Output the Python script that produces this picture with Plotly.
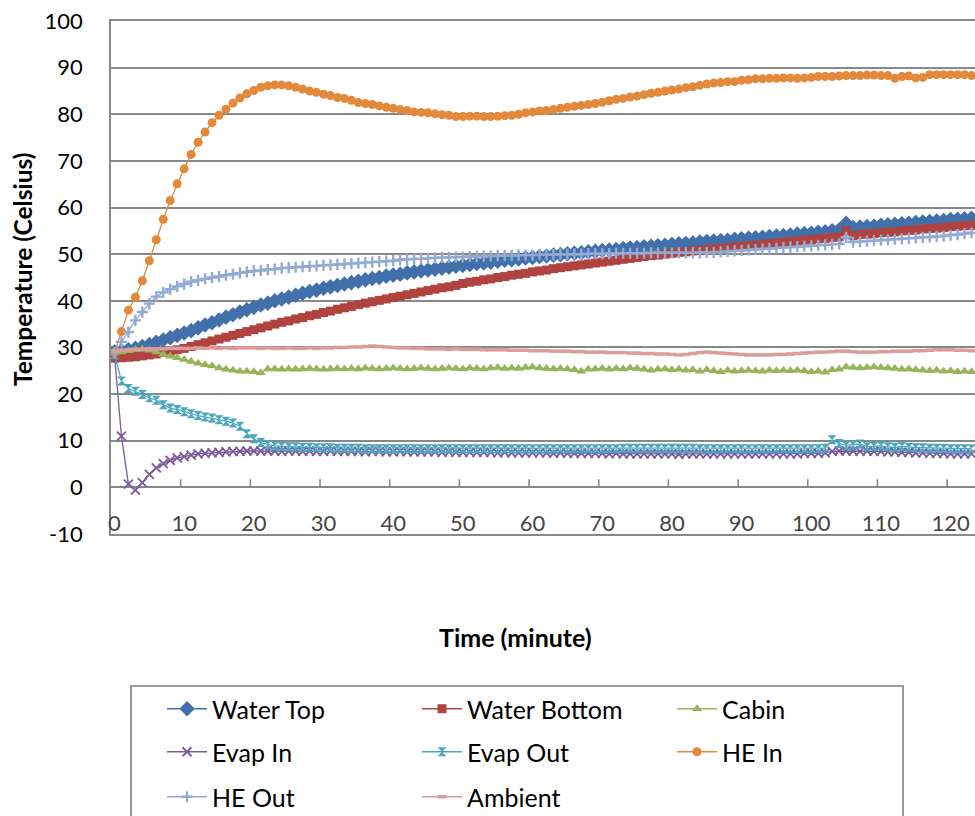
import plotly.graph_objects as go

# ---------------- data ----------------
minutes = list(range(0, 124))

water_top = [
    29.0, 29.2, 29.5, 29.8, 30.2, 30.6, 31.1, 31.6, 32.1, 32.6,
    33.1, 33.6, 34.2, 34.8, 35.3, 35.9, 36.5, 37.0, 37.6, 38.1,
    38.6, 39.1, 39.5, 40.0, 40.4, 40.8, 41.2, 41.6, 42.0, 42.3,
    42.7, 43.0, 43.3, 43.6, 43.9, 44.2, 44.5, 44.8, 45.0, 45.3,
    45.5, 45.7, 46.0, 46.2, 46.4, 46.6, 46.8, 47.0, 47.2, 47.4,
    47.6, 47.8, 48.0, 48.1, 48.3, 48.5, 48.7, 48.8, 49.0, 49.2,
    49.3, 49.5, 49.6, 49.8, 49.9, 50.1, 50.2, 50.3, 50.5, 50.6,
    50.8, 50.9, 51.0, 51.2, 51.3, 51.4, 51.6, 51.7, 51.8, 51.9,
    52.1, 52.2, 52.3, 52.4, 52.6, 52.7, 52.8, 52.9, 53.0, 53.2,
    53.3, 53.4, 53.5, 53.6, 53.8, 53.9, 54.0, 54.1, 54.3, 54.4,
    54.5, 54.7, 54.8, 55.0, 55.2, 56.6, 55.7, 55.8, 55.9, 56.0,
    56.2, 56.3, 56.4, 56.5, 56.6, 56.8, 56.9, 57.0, 57.1, 57.2,
    57.4, 57.5, 57.6, 57.7,
]

water_bottom = [
    27.7, 27.8, 27.9, 28.0, 28.2, 28.4, 28.6, 28.9, 29.2, 29.5,
    29.8, 30.2, 30.6, 31.0, 31.4, 31.8, 32.2, 32.6, 33.0, 33.4,
    33.8, 34.2, 34.6, 35.0, 35.4, 35.7, 36.1, 36.4, 36.8, 37.1,
    37.5, 37.8, 38.2, 38.5, 38.8, 39.2, 39.5, 39.8, 40.1, 40.4,
    40.7, 41.0, 41.3, 41.6, 41.9, 42.2, 42.5, 42.8, 43.0, 43.3,
    43.7, 44.0, 44.2, 44.5, 44.7, 45.0, 45.2, 45.5, 45.7, 45.9,
    46.2, 46.4, 46.6, 46.9, 47.1, 47.3, 47.5, 47.7, 47.9, 48.1,
    48.3, 48.5, 48.7, 48.9, 49.1, 49.3, 49.5, 49.7, 49.8, 50.0,
    50.2, 50.4, 50.5, 50.7, 50.8, 51.0, 51.1, 51.3, 51.4, 51.6,
    51.7, 51.8, 51.9, 52.1, 52.2, 52.4, 52.5, 52.7, 52.8, 53.0,
    53.1, 53.3, 53.4, 53.6, 53.7, 55.0, 54.0, 54.2, 54.3, 54.4,
    54.6, 54.7, 54.8, 55.0, 55.1, 55.2, 55.4, 55.5, 55.6, 55.7,
    55.9, 56.0, 56.1, 56.2,
]

cabin = [
    28.8, 29.0, 29.3, 29.5, 29.6, 29.4, 29.0, 28.5, 28.1, 27.8,
    27.4, 27.0, 26.6, 26.3, 26.0, 25.6, 25.3, 25.1, 24.9, 24.9,
    24.8, 24.6, 25.4, 25.4, 25.3, 25.4, 25.3, 25.4, 25.5, 25.4,
    25.3, 25.4, 25.5, 25.4, 25.5, 25.4, 25.6, 25.5, 25.4, 25.5,
    25.6, 25.5, 25.4, 25.5, 25.6, 25.5, 25.4, 25.5, 25.6, 25.5,
    25.4, 25.6, 25.5, 25.4, 25.6, 25.7, 25.5, 25.6, 25.5, 25.7,
    25.8, 25.6, 25.5, 25.4, 25.5, 25.4, 25.2, 24.9, 25.3, 25.4,
    25.5, 25.3, 25.5, 25.4, 25.6, 25.5, 25.3, 25.1, 25.3, 25.4,
    25.2, 25.3, 25.1, 25.2, 24.9, 25.2, 25.0, 24.8, 25.1, 24.9,
    25.0, 25.1, 25.0, 24.9, 25.1, 25.0, 25.1, 25.0, 25.1, 25.0,
    24.8, 24.9, 24.7, 25.2, 25.3, 25.8, 25.7, 25.6, 25.7, 25.8,
    25.7, 25.6, 25.5, 25.3, 25.4, 25.2, 25.1, 25.0, 25.1, 24.9,
    25.0, 24.8, 24.9, 24.8,
]

evap_in = [
    28.3, 11.0, 0.7, -0.6, 1.0, 2.8, 4.2, 5.1, 5.8, 6.3,
    6.6, 6.9, 7.2, 7.3, 7.4, 7.5, 7.6, 7.7, 7.7, 7.8,
    7.8, 7.8, 7.8, 7.8, 7.7, 7.8, 7.8, 7.7, 7.8, 7.7,
    7.7, 7.8, 7.7, 7.7, 7.7, 7.7, 7.6, 7.7, 7.7, 7.6,
    7.6, 7.7, 7.6, 7.6, 7.6, 7.6, 7.6, 7.5, 7.6, 7.5,
    7.5, 7.5, 7.5, 7.5, 7.5, 7.4, 7.5, 7.4, 7.4, 7.4,
    7.4, 7.4, 7.4, 7.3, 7.4, 7.3, 7.3, 7.3, 7.3, 7.3,
    7.3, 7.2, 7.3, 7.2, 7.2, 7.2, 7.2, 7.2, 7.2, 7.2,
    7.2, 7.1, 7.2, 7.2, 7.2, 7.2, 7.2, 7.2, 7.2, 7.2,
    7.2, 7.2, 7.2, 7.2, 7.2, 7.2, 7.2, 7.2, 7.2, 7.3,
    7.3, 7.3, 7.4, 7.7, 7.8, 7.8, 7.8, 7.7, 7.8, 7.7,
    7.7, 7.6, 7.6, 7.5, 7.5, 7.4, 7.4, 7.3, 7.3, 7.3,
    7.2, 7.2, 7.2, 7.2,
]

evap_out = [
    28.5, 22.8, 21.2, 20.6, 19.9, 19.2, 18.7, 17.7, 17.0, 16.7,
    16.2, 15.8, 15.4, 15.1, 14.9, 14.5, 14.2, 13.8, 13.1, 11.5,
    10.4, 9.6, 9.2, 8.9, 8.8, 8.7, 8.7, 8.6, 8.6, 8.5,
    8.5, 8.5, 8.4, 8.4, 8.4, 8.4, 8.3, 8.3, 8.3, 8.3,
    8.3, 8.3, 8.3, 8.3, 8.3, 8.3, 8.3, 8.3, 8.3, 8.3,
    8.3, 8.3, 8.3, 8.3, 8.3, 8.3, 8.3, 8.3, 8.3, 8.3,
    8.3, 8.3, 8.3, 8.3, 8.3, 8.3, 8.3, 8.3, 8.3, 8.3,
    8.3, 8.3, 8.3, 8.4, 8.4, 8.4, 8.4, 8.4, 8.4, 8.4,
    8.4, 8.4, 8.4, 8.4, 8.3, 8.3, 8.3, 8.3, 8.3, 8.3,
    8.3, 8.3, 8.3, 8.3, 8.3, 8.3, 8.3, 8.3, 8.3, 8.3,
    8.3, 8.3, 8.4, 10.2, 9.4, 9.0, 9.1, 9.3, 8.7, 8.8,
    8.9, 8.7, 8.6, 8.8, 8.6, 8.5, 8.5, 8.4, 8.4, 8.4,
    8.3, 8.3, 8.3, 8.3,
]

he_in = [
    28.9, 33.4, 38.0, 40.8, 44.3, 48.6, 53.1, 57.5, 61.5, 65.1,
    68.3, 71.4, 74.0, 76.2, 78.2, 79.8, 81.1, 82.4, 83.5, 84.4,
    85.1, 85.8, 86.1, 86.3, 86.3, 86.1, 85.8, 85.4, 85.0, 84.7,
    84.3, 84.0, 83.6, 83.4, 83.0, 82.5, 82.3, 82.1, 81.8, 81.5,
    81.3, 81.0, 80.8, 80.5, 80.4, 80.3, 80.1, 79.9, 79.8, 79.5,
    79.5, 79.6, 79.6, 79.5, 79.5, 79.6, 79.7, 79.8, 80.0, 80.3,
    80.5, 80.7, 80.8, 81.0, 81.3, 81.5, 81.7, 81.9, 82.1, 82.3,
    82.6, 82.9, 83.2, 83.4, 83.7, 83.9, 84.2, 84.5, 84.7, 85.0,
    85.2, 85.4, 85.7, 85.9, 86.2, 86.5, 86.7, 86.8, 87.0, 87.0,
    87.3, 87.4, 87.6, 87.6, 87.7, 87.7, 87.8, 87.8, 87.7, 87.8,
    87.9, 88.1, 88.1, 88.1, 88.2, 88.3, 88.3, 88.3, 88.4, 88.4,
    88.3, 88.3, 87.7, 88.1, 88.2, 87.8, 87.9, 88.5, 88.5, 88.5,
    88.5, 88.5, 88.5, 88.3,
]

he_out = [
    28.9, 31.2, 33.3, 35.8, 37.6, 39.4, 40.9, 41.8, 42.5, 43.1,
    43.6, 44.1, 44.4, 44.7, 45.0, 45.2, 45.5, 45.7, 46.0, 46.2,
    46.4, 46.5, 46.7, 46.8, 47.0, 47.1, 47.2, 47.3, 47.4, 47.5,
    47.6, 47.7, 47.8, 47.9, 48.0, 48.1, 48.2, 48.3, 48.4, 48.5,
    48.6, 48.8, 48.9, 49.0, 49.0, 49.1, 49.2, 49.3, 49.3, 49.4,
    49.4, 49.5, 49.5, 49.6, 49.6, 49.7, 49.7, 49.7, 49.8, 49.8,
    49.8, 49.9, 49.9, 49.9, 50.0, 50.0, 50.0, 50.0, 50.1, 50.1,
    50.1, 50.1, 50.2, 50.2, 50.2, 50.2, 50.2, 50.3, 50.3, 50.3,
    50.3, 50.3, 50.3, 50.3, 50.3, 50.4, 50.4, 50.5, 50.6, 50.7,
    50.8, 50.9, 51.0, 51.1, 51.2, 51.3, 51.4, 51.5, 51.6, 51.7,
    51.8, 51.9, 52.0, 52.1, 52.2, 53.6, 52.6, 52.7, 52.8, 52.9,
    53.0, 53.1, 53.2, 53.3, 53.4, 53.5, 53.6, 53.7, 53.8, 53.9,
    54.1, 54.2, 54.4, 54.6,
]

ambient = [
    29.2, 29.4, 29.5, 29.6, 29.6, 29.7, 29.7, 29.7, 29.8, 29.8,
    29.8, 29.8, 29.9, 29.8, 29.9, 29.8, 29.9, 29.8, 29.9, 29.9,
    29.9, 29.8, 29.9, 29.8, 29.8, 29.9, 29.8, 29.8, 29.9, 29.8,
    29.9, 29.9, 30.0, 30.0, 30.1, 30.1, 30.2, 30.3, 30.2, 30.1,
    30.0, 29.9, 29.9, 29.8, 29.8, 29.7, 29.7, 29.7, 29.6, 29.7,
    29.6, 29.6, 29.6, 29.5, 29.5, 29.5, 29.5, 29.4, 29.4, 29.4,
    29.3, 29.3, 29.3, 29.2, 29.2, 29.2, 29.1, 29.1, 29.0, 29.0,
    29.0, 28.9, 28.9, 28.9, 28.8, 28.8, 28.7, 28.7, 28.6, 28.6,
    28.5, 28.4, 28.5, 28.7, 28.9, 29.0, 28.9, 28.8, 28.7, 28.6,
    28.5, 28.4, 28.4, 28.4, 28.4, 28.5, 28.5, 28.6, 28.7, 28.8,
    28.9, 29.0, 29.0, 29.1, 29.2, 29.2, 29.1, 29.0, 29.0, 29.0,
    29.1, 29.1, 29.2, 29.2, 29.2, 29.3, 29.3, 29.4, 29.5, 29.5,
    29.5, 29.4, 29.4, 29.3,
]

x_tick_vals = [0, 10, 20, 30, 40, 50, 60, 70, 80, 90, 100, 110, 120]
x_tick_text = ["0", "10", "20", "30", "40", "50", "60", "70", "80", "90", "100", "110", "120"]
y_tick_vals = [-10, 0, 10, 20, 30, 40, 50, 60, 70, 80, 90, 100]
y_tick_text = ["-10", "0", "10", "20", "30", "40", "50", "60", "70", "80", "90", "100"]
# category boundaries where the small tick marks sit on the 0 line
x_minor_ticks = [9.5, 19.5, 29.5, 39.5, 49.5, 59.5, 69.5, 79.5, 89.5, 99.5, 109.5, 119.5]

FONT = "Lato"
GRID = "#888888"

series = [
    ("Water Top", water_top, "#4270AB", dict(symbol="diamond", size=12), "legend"),
    ("Water Bottom", water_bottom, "#B0433F", dict(symbol="square", size=9), "legend"),
    ("Cabin", cabin, "#96B55A", dict(symbol="triangle-up", size=9), "legend"),
    ("Evap In", evap_in, "#7A5C9C", dict(symbol="x-thin", size=9, line=dict(width=1.8, color="#7A5C9C")), "legend2"),
    ("Evap Out", evap_out, "#4BA6C0", dict(symbol="hourglass", size=9), "legend2"),
    ("HE In", he_in, "#E2893B", dict(symbol="circle", size=9), "legend2"),
    ("HE Out", he_out, "#93AAD2", dict(symbol="cross-thin", size=8, line=dict(width=2.4, color="#93AAD2")), "legend3"),
    ("Ambient", ambient, "#DC9C99", dict(symbol="line-ew", size=6, line=dict(width=3.5, color="#DC9C99")), "legend3"),
]

fig = go.Figure()
for name, vals, color, mk, lg in series:
    marker = dict(color=color)
    marker.update(mk)
    fig.add_trace(go.Scatter(
        x=minutes, y=vals, name=name, mode="lines+markers",
        line=dict(color=color, width=1.3),
        marker=marker, legend=lg,
    ))

# plot area in pixels: x 111..975, y 21..534
L, R, T, B = 111, 975, 21, 534
W, H = R - L, B - T


def px_x(p):
    return (p - L) / W


def px_y(p):
    return (B - p) / H


shapes = []
for t in x_minor_ticks:
    shapes.append(dict(type="line", xref="x", yref="y", x0=t, x1=t, y0=0, y1=1.75,
                       line=dict(color=GRID, width=1.6)))
# legend frame
shapes.append(dict(type="rect", xref="paper", yref="paper",
                   x0=px_x(131), x1=px_x(903), y0=px_y(686), y1=px_y(840),
                   line=dict(color="#7f7f7f", width=1.6), fillcolor="rgba(0,0,0,0)", layer="above"))

leg_common = dict(orientation="h", xanchor="left", yanchor="middle",
                  entrywidth=200, entrywidthmode="pixels",
                  font=dict(family=FONT, size=25, color="#000000"),
                  bgcolor="rgba(0,0,0,0)", borderwidth=0, itemwidth=40,
                  traceorder="normal")

fig.update_layout(
    width=975, height=816,
    margin=dict(l=L, r=975 - R, t=T, b=816 - B, autoexpand=False),
    paper_bgcolor="white", plot_bgcolor="white",
    font=dict(family=FONT, size=22, color="#000000"),
    showlegend=True,
    legend=dict(leg_common, x=px_x(162), y=px_y(709)),
    legend2=dict(leg_common, x=px_x(162), y=px_y(752)),
    legend3=dict(leg_common, x=px_x(162), y=px_y(797)),
    xaxis=dict(range=[-0.5, 123.5], tickvals=x_tick_vals, ticktext=x_tick_text,
               ticks="", showgrid=False, zeroline=False,
               showline=True, linecolor=GRID, linewidth=1.8, mirror=True,
               ticklabelposition="inside", ticklabeloverflow="allow",
               tickfont=dict(family=FONT, size=22)),
    yaxis=dict(range=[-10, 100], tickvals=y_tick_vals, ticktext=y_tick_text, ticks="",
               showgrid=True, gridcolor=GRID, gridwidth=1.8, zeroline=False,
               showline=True, linecolor=GRID, linewidth=1.8,
               ticklabelstandoff=22, tickfont=dict(family=FONT, size=22)),
    shapes=shapes,
    annotations=[
        dict(text="<b>Temperature (Celsius)</b>", xref="paper", yref="paper",
             x=px_x(22), y=px_y(270), textangle=-90, showarrow=False,
             xanchor="center", yanchor="middle", font=dict(family=FONT, size=24.5)),
        dict(text="<b>Time (minute)</b>", xref="paper", yref="paper",
             x=px_x(515), y=px_y(637), showarrow=False,
             xanchor="center", yanchor="middle", font=dict(family=FONT, size=25)),
    ],
)

fig.write_html("out.html", config={"displayModeBar": False},
               post_script="document.body.style.margin='0';document.body.style.overflow='hidden';")
